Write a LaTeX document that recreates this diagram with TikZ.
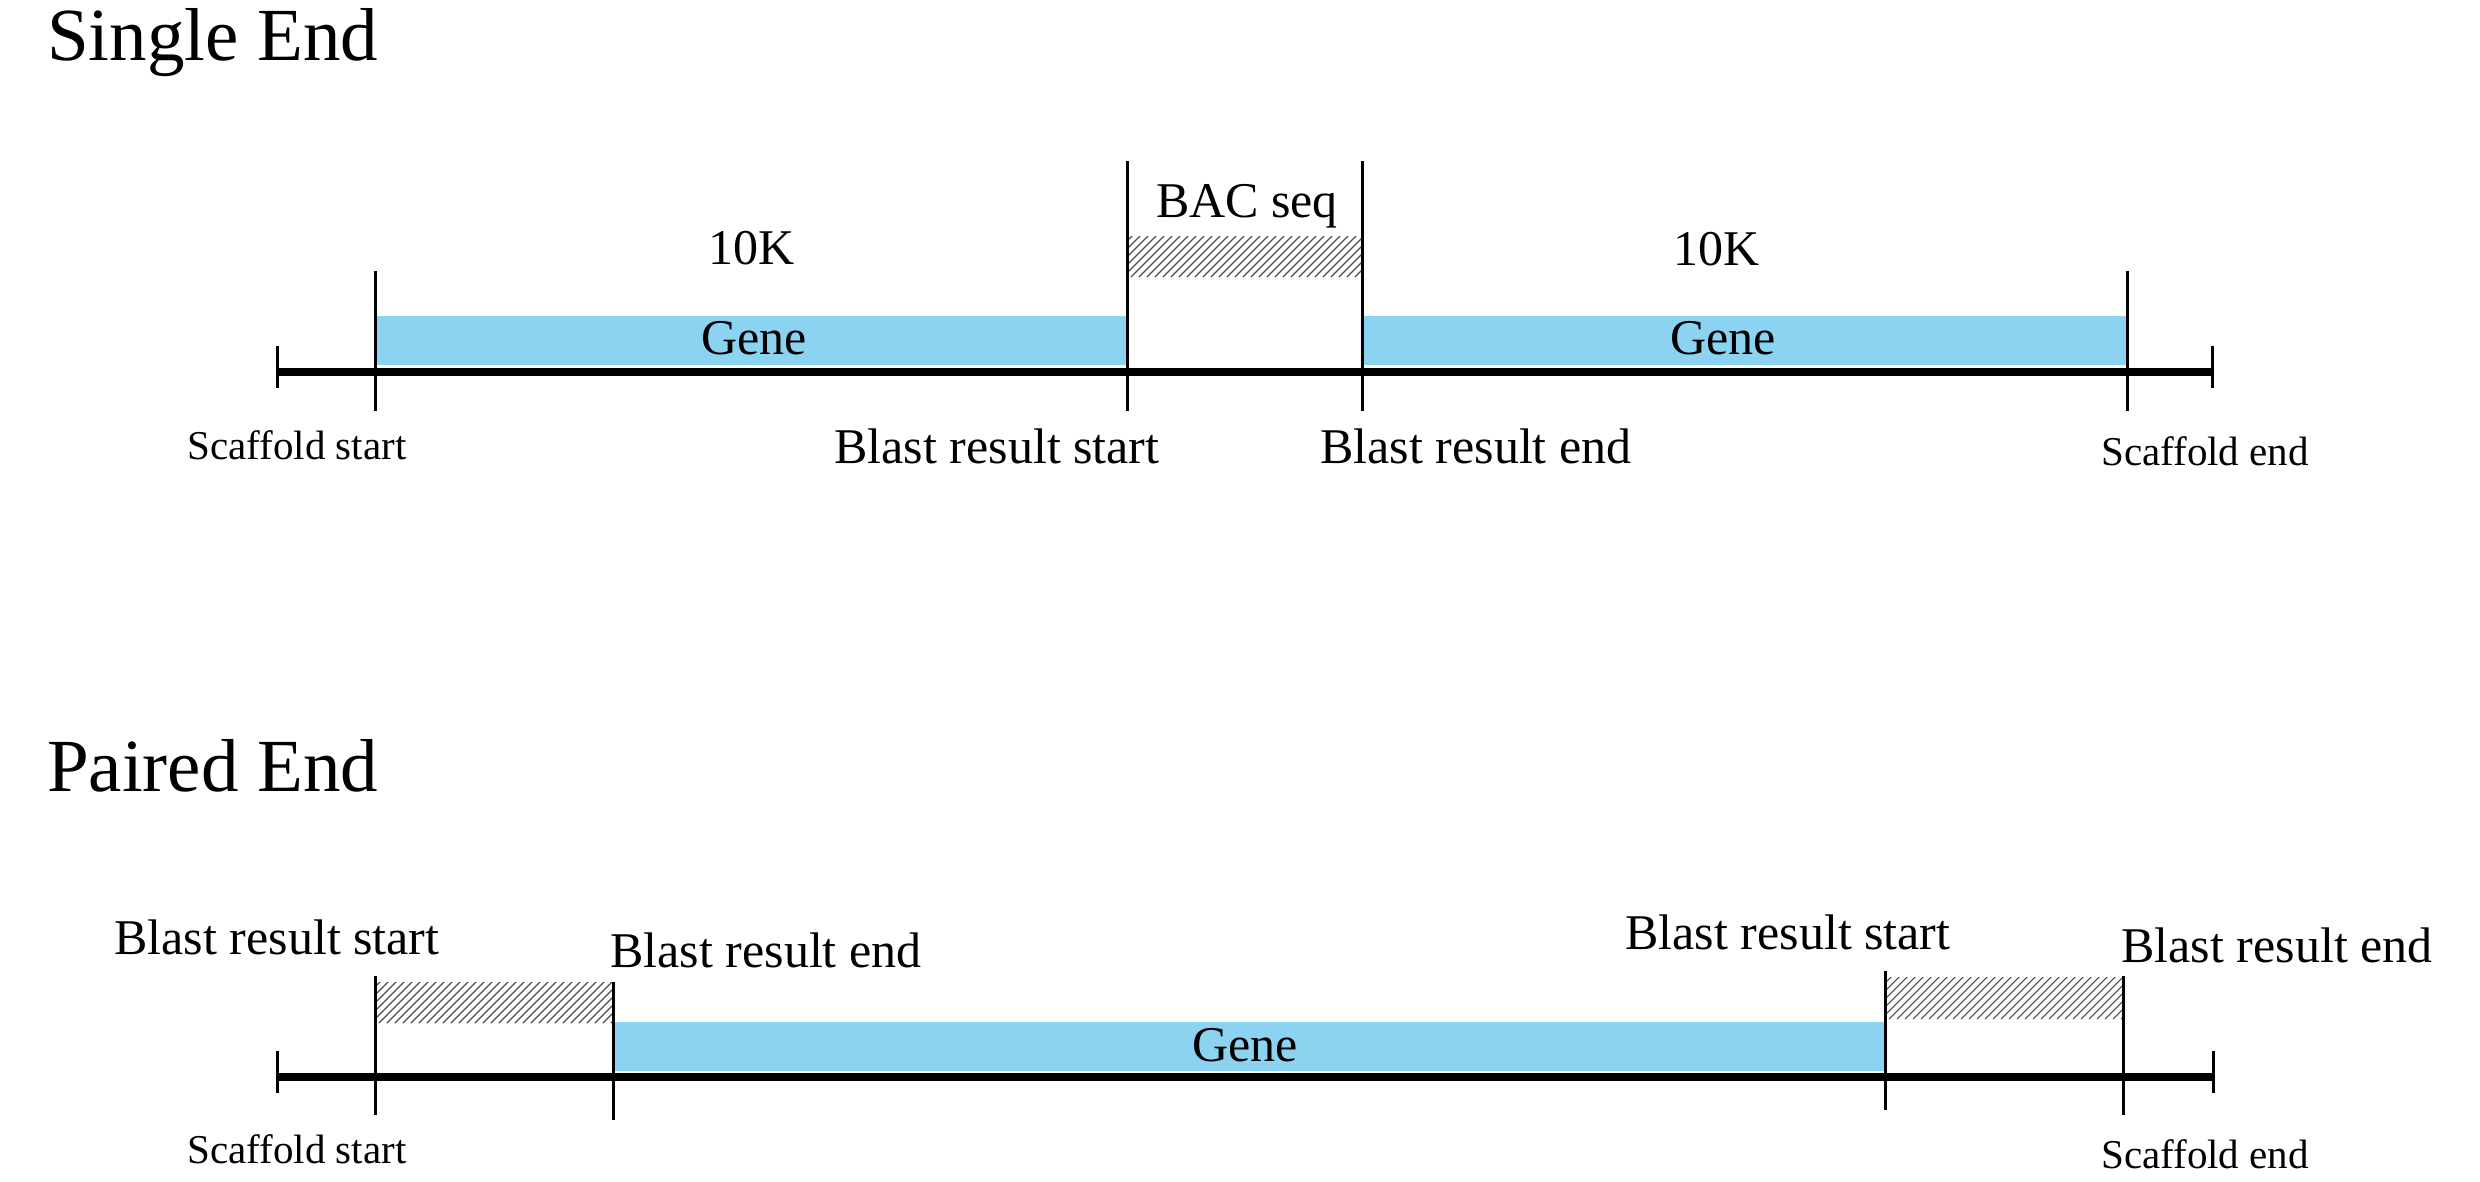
\documentclass[tikz,border=0pt]{standalone}
\usepackage{fontspec}
\setmainfont{Liberation Serif}
\definecolor{genecol}{RGB}{140,211,242}
\tikzset{
  every node/.style={inner sep=0pt,outer sep=0pt},
  title/.style={anchor=base west,font=\fontsize{75}{90}\selectfont},
  lbl/.style={anchor=base,font=\fontsize{50}{60}\selectfont},
  small/.style={anchor=base,font=\fontsize{41}{50}\selectfont},
  mainline/.style={line width=8.5pt},
  endtick/.style={line width=3pt},
  vline/.style={line width=3pt},
  genebar/.style={fill=genecol,draw=none},
}
\newcommand{\hatchbox}[4]{%
  \begin{scope}
    \clip (#1,#2) rectangle (#3,#4);
    \foreach \k in {-60,-52,...,300}{
      \draw[black!70,line width=1.1pt] (#1+\k,#4) -- ++(60,-60);
    }
  \end{scope}}
\begin{document}
\begin{tikzpicture}[x=1pt,y=-1pt]
\useasboundingbox[fill=white] (0,0) rectangle (2480,1181);

% ---------------- Single End ----------------
\node[title] (t1) at (47,60) {Single End};

\fill[genebar] (375,316) rectangle (1127,365);
\fill[genebar] (1362,316) rectangle (2127,365);
\hatchbox{1127}{236}{1362}{277}

\coordinate (aL) at (277,372);
\coordinate (aR) at (2212,372);
\draw[mainline] (aL) -- (aR);
\draw[endtick] (277,346) -- (277,388);
\draw[endtick] (2212,346) -- (2212,388);
\draw[vline] (375,271) -- (375,411);
\draw[vline] (1127,161) -- (1127,411);
\draw[vline] (1362,161) -- (1362,411);
\draw[vline] (2127,271) -- (2127,411);

\node[lbl] (k1) at (752,264) {10K};
\node[lbl] (k2) at (1717,265) {10K};
\node[lbl] (bac) at (1247,217) {BAC seq};
\node[lbl] (g1) at (754,354) {Gene};
\node[lbl] (g2) at (1723,354) {Gene};
\node[lbl] (bs1) at (997,463) {Blast result start};
\node[lbl] (be1) at (1476,463) {Blast result end};
\node[small] (ss1) at (297,459) {Scaffold start};
\node[small] (se1) at (2205,465) {Scaffold end};

% ---------------- Paired End ----------------
\node[title] (t2) at (47,791) {Paired End};

\fill[genebar] (613,1022) rectangle (1885,1071);
\hatchbox{375}{982}{613}{1023}
\hatchbox{1885}{977}{2123}{1019}

\coordinate (bL) at (277,1077);
\coordinate (bR) at (2213,1077);
\draw[mainline] (bL) -- (bR);
\draw[endtick] (277,1051) -- (277,1093);
\draw[endtick] (2213,1051) -- (2213,1093);
\draw[vline] (375,976) -- (375,1115);
\draw[vline] (613,982) -- (613,1120);
\draw[vline] (1885,971) -- (1885,1110);
\draw[vline] (2123,976) -- (2123,1115);

\node[lbl] (g3) at (1245,1061) {Gene};
\node[lbl] (bs2) at (277,954) {Blast result start};
\node[lbl] (be2) at (766,967) {Blast result end};
\node[lbl] (bs3) at (1788,949) {Blast result start};
\node[lbl] (be3) at (2277,962) {Blast result end};
\node[small] (ss2) at (297,1163) {Scaffold start};
\node[small] (se2) at (2205,1168) {Scaffold end};
\end{tikzpicture}
\end{document}
